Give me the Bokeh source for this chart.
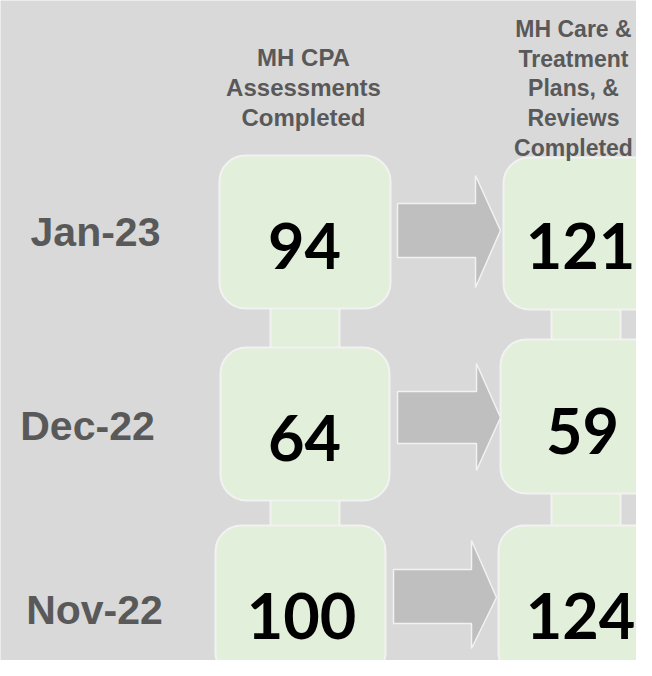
from bokeh.plotting import figure
from bokeh.models import Range1d
from bokeh.core.properties import value
from bokeh.embed import file_html
from bokeh.resources import INLINE

# ---------------- data ----------------
months = ["Jan-23", "Dec-22", "Nov-22"]
cpa_assessments = [94, 64, 100]
care_plans_reviews = [121, 59, 124]
header_left = ["MH CPA", "Assessments", "Completed"]
header_right = ["MH Care &", "Treatment", "Plans, &", "Reviews", "Completed"]

# ---------------- layout (reference pixels, y measured downward) ----------------
H = 676
W_VIEW, H_VIEW = 636, 660
def Y(v):
    return H - v

left_box_x = [(219, 390), (220, 389), (215, 385)]
left_box_y = [(155, 308), (347, 500), (525, 678)]
right_box_x = [(503, 674), (500, 671), (498, 669)]
right_box_y = [(157, 309), (339, 493), (525, 678)]
left_conn_x = (270, 339)
right_conn_x = (551, 620)

# arrows: body-left, head-x, tip-x, body-top, body-bottom, head-top, head-bottom, tip-y
arrows = [
    (397, 475, 500, 203, 257, 175, 287, 230),
    (397, 476, 500, 391, 443, 363, 470, 417),
    (393, 471, 496, 569, 623, 540, 648, 597),
]

label_x = [95, 87, 94]
label_base = [231, 425, 609]
left_num_x = [304, 304, 301]
left_num_base = [245, 437, 615]
right_num_x = [580, 582, 580]
right_num_base = [245, 430, 615]

hdr_left_x = 303
hdr_left_base = [57, 87, 117]
hdr_right_x = 573
hdr_right_base = [28, 58, 87, 117, 147]

BG = "#d9d9d9"
BOX = "#e2efda"
EDGE = "#f2f2f2"
ARROW = "#bfbfbf"
GREY_TXT = "#595959"

p = figure(width=W_VIEW, height=H_VIEW, x_range=Range1d(0, W_VIEW), y_range=Range1d(H - H_VIEW, H),
           toolbar_location=None, output_backend="svg", min_border=0)
p.axis.visible = False
p.grid.visible = False
p.outline_line_color = None
p.background_fill_color = BG
p.border_fill_color = BG

# connectors (drawn first, boxes cover their ends)
cl, cr, cb, ct = [], [], [], []
for i in range(len(months) - 1):
    cl.append(left_conn_x[0]); cr.append(left_conn_x[1])
    ct.append(Y(left_box_y[i][1] - 2)); cb.append(Y(left_box_y[i + 1][0] + 2))
    cl.append(right_conn_x[0]); cr.append(right_conn_x[1])
    ct.append(Y(right_box_y[i][1] - 2)); cb.append(Y(right_box_y[i + 1][0] + 2))
p.quad(left=cl, right=cr, top=ct, bottom=cb, fill_color=BOX, line_color=EDGE, line_width=2)

# boxes
bl, br, bt, bb = [], [], [], []
for xs, ys in list(zip(left_box_x, left_box_y)) + list(zip(right_box_x, right_box_y)):
    bl.append(xs[0]); br.append(xs[1]); bt.append(Y(ys[0])); bb.append(Y(ys[1]))
p.quad(left=bl, right=br, top=bt, bottom=bb, fill_color=BOX, line_color=EDGE,
       line_width=2, border_radius=26)

# arrows
axs, ays = [], []
for (x0, hx, tx, bt_, bb_, ht, hb, ty) in arrows:
    axs.append([x0, hx, hx, tx, hx, hx, x0])
    ays.append([Y(bt_), Y(bt_), Y(ht), Y(ty), Y(hb), Y(bb_), Y(bb_)])
p.patches(xs=axs, ys=ays, fill_color=ARROW, line_color=EDGE, line_width=1.5)

# month labels
p.text(x=label_x, y=[Y(v) for v in label_base], text=months,
       text_align="center", text_baseline="alphabetic",
       text_font=value("Liberation Sans"), text_font_style="bold",
       text_font_size="41px", text_color=GREY_TXT)

# numbers
p.text(x=left_num_x, y=[Y(v) for v in left_num_base], text=[str(v) for v in cpa_assessments],
       text_align="center", text_baseline="alphabetic",
       text_font=value("Lato"), text_font_style="bold",
       text_font_size="63px", text_color="#000000")
p.text(x=right_num_x, y=[Y(v) for v in right_num_base], text=[str(v) for v in care_plans_reviews],
       text_align="center", text_baseline="alphabetic",
       text_font=value("Lato"), text_font_style="bold",
       text_font_size="63px", text_color="#000000")

# headers
p.text(x=[hdr_left_x] * len(header_left), y=[Y(v) for v in hdr_left_base], text=header_left,
       text_align="center", text_baseline="alphabetic",
       text_font=value("Liberation Sans"), text_font_style="bold",
       text_font_size="24px", text_color=GREY_TXT)
p.text(x=[hdr_right_x] * len(header_right), y=[Y(v) for v in hdr_right_base], text=header_right,
       text_align="center", text_baseline="alphabetic",
       text_font=value("Liberation Sans"), text_font_style="bold",
       text_font_size="23px", text_color=GREY_TXT)

open("out.html", "w").write(file_html(p, INLINE))
